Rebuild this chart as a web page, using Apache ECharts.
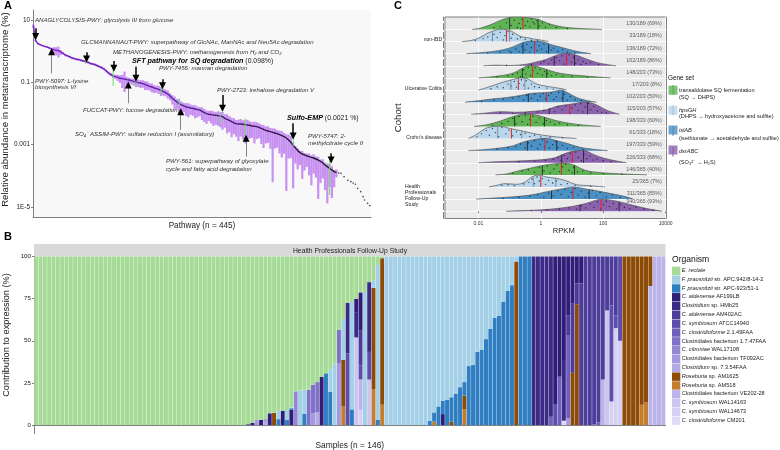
<!DOCTYPE html>
<html>
<head>
<meta charset="utf-8">
<script src="https://cdn.jsdelivr.net/npm/echarts@6/dist/echarts.min.js"></script>
<style>
html, body { margin: 0; background: #fff; }
#chart { width: 780px; height: 450px; }
</style>
</head>
<body>
<div id="chart"></div>
<script>
// ---- panel A: pathways, log10 abundance read every third rank
const meanLog = [.808,.337,.241,.209,.177,.155,.134,.102,.070,.048,.027,.016,-.026,-.069,-.123,-.155,-.187,-.219,-.240,-.262,-.272,-.294,-.315,-.337,-.358,-.390,-.411,-.433,-.465,-.497,-.529,-.572,-.636,-.700,-.754,-.796,-.818,-.839,-.871,-.882,-.893,-.914,-.925,-.946,-.968,-.989,-1.010,-1.021,-1.042,-1.064,-1.096,-1.128,-1.149,-1.181,-1.203,-1.224,-1.256,-1.288,-1.331,-1.374,-1.438,-1.513,-1.577,-1.631,-1.684,-1.727,-1.759,-1.791,-1.802,-1.823,-1.834,-1.855,-1.877,-1.887,-1.930,-1.973,-2.005,-2.026,-2.037,-2.048,-2.058,-2.069,-2.080,-2.101,-2.155,-2.187,-2.219,-2.262,-2.304,-2.326,-2.337,-2.337,-2.347,-2.358,-2.369,-2.379,-2.401,-2.411,-2.422,-2.444,-2.476,-2.508,-2.540,-2.561,-2.583,-2.604,-2.625,-2.647,-2.679,-2.711,-2.743,-2.786,-2.850,-2.925,-3.021,-3.107,-3.192,-3.256,-3.299,-3.331,-3.363,-3.385,-3.406,-3.428,-3.460,-3.492,-3.534,-3.588,-3.652,-3.706,-3.759,-3.812,-3.866,-3.898];
const spreadUp = [.05,.02,.02,.02,.02,.02,.02,.03,.03,.08,.1,.13,.06,.04,.03,.03,.04,.03,.03,.03,.03,.04,.03,.03,.04,.03,.03,.04,.04,.03,.04,.04,.04,.04,.05,.05,.06,.08,.1,.12,.24,.08,.07,.07,.08,.09,.1,.09,.11,.1,.12,.1,.11,.09,.1,.11,.1,.09,.1,.11,.09,.1,.12,.1,.13,.11,.1,.12,.13,.11,.1,.12,.1,.09,.13,.12,.1,.11,.13,.12,.1,.14,.12,.15,.13,.16,.14,.13,.15,.12,.14,.16,.13,.14,.17,.13,.12,.15,.14,.13,.12,.14,.13,.15,.12,.13,.14,.12,.13,.15,.12,.12,.18,.2,.1,.06,.08,.06,.1,.06,.08,.1,.06,.12,.08,.1,.06,.12,.08,.1,.14,.12,.06,.1];
const spreadDown = [.06,.03,.03,.03,.03,.03,.03,.04,.05,.12,.16,.22,.1,.04,.04,.03,.04,.04,.03,.04,.04,.04,.03,.04,.04,.04,.03,.04,.04,.04,.05,.04,.05,.05,.05,.06,.08,.12,.15,.3,.42,.22,.1,.12,.14,.15,.14,.16,.13,.18,.15,.14,.17,.16,.13,.15,.18,.14,.12,.15,.14,.2,.3,.22,.35,.25,.2,.28,.32,.22,.24,.3,.25,.2,.28,.3,.33,.22,.28,.35,.3,.32,.36,.42,.3,.45,.38,.5,.36,.42,.55,.4,.48,.6,.45,.42,.38,.55,.4,.35,.5,.6,.42,.38,.55,1.6,.5,.45,.6,.7,.55,1.7,.6,.5,1.38,.5,.6,.4,.8,.5,.35,.6,.9,.5,.6,1.25,.7,.5,.8,1.18,.6,.9,.5,.15];
const tailRanks = [402,405,409,414,418,421,424,427,431,434,436,440,443];
const tailLog = [-3.909,-3.920,-4.026,-4.144,-4.187,-4.230,-4.272,-4.401,-4.508,-4.668,-4.775,-4.882,-4.95];
// highlighted pathways: rank index, high and low log10
const highlightRanks = [3,69,105,135,168,192,246,279,342,390];
const highlightHigh = [.573,-.262,-.572,-.818,-1.160,-1.513,-1.941,-2.155,-2.69,-3.385];
const highlightLow = [.380,-.411,-1.117,-1.160,-1.374,-1.759,-2.315,-2.850,-3.064,-4.615];
// arrows: rank index, tail and tip log10; the first eight have black shafts
const arrowRanks = [3,70,106,135,170,249,342,392,24,125,194,280];
const arrowTail = [.733,-.037,-.315,-.497,-.903,-1.406,-2.315,-3.278,-.711,-1.673,-2.529,-3.385];
const arrowTip = [.466,-.251,-.550,-.871,-1.107,-1.834,-2.722,-3.492,-.016,-1.085,-1.941,-2.797];
const abundanceTicks = [1e-5, 1e-3, 0.1, 10];
const abundanceTickLabels = { '0.00001': '1E-5', '0.001': '0.001', '0.1': '0.1', '10': '10' };

// ---- panel B: runs of [sample, pct] or [first, last, pct], top of stack first
const eRectale = [[0,48,100],[49,99.5],[50,98.7],[51,52,97],[53,96.5],[54,93],[55,92.7],[56,91.7],[57,91.5],[58,91],[59,89.5],[60,80],[61,79.5],[62,63,79],[64,76],[65,74.5],[66,71.5],[67,69.3],[68,67],[69,63.5],[70,43.5],[71,37],[72,27.4],[73,27],[74,25],[75,21.3],[76,21],[77,15.2],[78,14.1],[79,5],[80,1]];
const fPrau942 = [[56,4.8],[58,6],[59,.5],[61,20.5],[62,14.2],[68,13.4],[69,36.5],[71,24.4],[73,63.7],[76,79],[78,4.5],[79,92],[81,90,100],[91,97.6],[92,92.5],[93,89],[94,85.5],[95,85],[96,83.5],[97,81.3],[98,77.5],[99,74.5],[100,65],[101,64.4],[102,56.6],[103,55.2],[104,49],[105,43],[106,36.5],[107,35.2],[108,27],[109,20.4],[110,17],[111,3]];
const fPrau923 = [[56,3.5],[58,3],[59,1],[62,6.8],[67,30.7],[68,19.6],[73,9.3],[79,3],[91,2.4],[92,5.5],[93,11],[94,8],[95,15],[96,14.5],[97,18.7],[98,22.5],[99,8],[100,35],[101,35.6],[102,43.4],[103,44.8],[104,51],[105,57],[106,63.5],[107,64.8],[108,73],[109,79.6],[110,83],[112,114,100]];
const cAld199 = [[49,.5],[50,1.3],[52,3],[54,7],[57,8.5],[59,9],[66,28.5],[74,8],[75,22.4],[94,6.5],[120,87.5],[121,71.3],[122,61.4],[123,35],[124,28],[125,16],[126,16]];
const closHMb = [[72,30],[74,15],[77,41.4],[115,118,100],[119,95],[122,36]];
const cAld402 = [[75,20.8],[123,12],[124,41],[125,12.3],[126,84],[127,128,100],[129,99.5],[130,98.5],[131,73],[132,32],[133,29],[134,35]];
const cSymATCC = [[72,42.6],[75,8.5],[77,16.4],[120,12.5],[133,57],[134,7.5],[135,50]];
const cClos21 = [[119,5],[121,28.7],[123,49],[129,.5],[130,1.5]];
const bact147 = [[63,21],[64,17],[65,18],[70,20]];
const cCitro = [[53,1],[60,20]];
const bactTF = [[51,3],[64,7],[70,36.5],[123,4]];
const clos73 = [[53,2.5],[65,7.5]];
const rose1625 = [[55,7.3],[71,27.6],[78,60],[80,87],[96,2],[99,8],[111,97],[124,31],[125,71.7],[136,139,100],[140,88],[141,86.6],[142,17.5]];
const rose518 = [[71,11],[78,21.4],[80,12],[92,2],[99,9.5],[140,12],[141,13.4]];
const bactVE = [[75,18],[131,27],[142,82.5],[143,145,100]];
const cSym163 = [[74,52],[77,27],[132,68]];
const cSym673 = [[75,9],[133,14],[134,57.5],[135,50]];
const cClosCM = [[122,2.6]];
const sampleCount = 146;
const contributionTicks = [0, 25, 50, 75, 100];

const organisms = [
    ['E. rectale', '{i|E. rectale}', '#A6DB97', eRectale],
    ['APC.942/8-14-2', '{i|F. prausnitzii }{n|str. APC.942/8-14-2}', '#A3CFE7', fPrau942],
    ['APC-923/51-1', '{i|F. prausnitzii }{n|str. APC-923/51-1}', '#2F7EC2', fPrau923],
    ['AF199LB', '{i|C. aldenense }{n|AF199LB}', '#2F1D78', cAld199],
    ['HMb25', '{i|Clostridium }{n|sp. HMb25}', '#3B2B85', closHMb],
    ['AM402AC', '{i|C. aldenense }{n|AM402AC}', '#4D3C99', cAld402],
    ['ATCC14940', '{i|C. symbiosum }{n|ATCC14940}', '#5E4DAD', cSymATCC],
    ['2.1.49FAA', '{i|C. clostridioforme }{n|2.1.49FAA}', '#705FBD', cClos21],
    ['1.7.47FAA', '{n|Clostridiales bacterium 1.7.47FAA}', '#7F70C8', bact147],
    ['WAL17108', '{i|C. citroniae }{n|WAL17108}', '#9386D3', cCitro],
    ['TF092AC', '{n|Clostridiales bacterium TF092AC}', '#A498DE', bactTF],
    ['7.3.54FAA', '{i|Clostridium }{n|sp. 7.3.54FAA}', '#B3A9E3', clos73],
    ['AM1625', '{i|Roseburia }{n|sp. AM1625}', '#8C4B06', rose1625],
    ['AM518', '{i|Roseburia }{n|sp. AM518}', '#C37D2C', rose518],
    ['VE202-28', '{n|Clostridiales bacterium VE202-28}', '#BDB3EB', bactVE],
    ['WAL14163', '{i|C. symbiosum }{n|WAL14163}', '#CCC5F0', cSym163],
    ['WAL14673', '{i|C. symbiosum }{n|WAL14673}', '#D6D0F5', cSym673],
    ['CM201', '{i|C. clostridioforme }{n|CM201}', '#DFDBFA', cClosCM]
];

// ---- panel C: ridges, log10 RPKM and density height, top row first
const ridgeX = [
    [-2.21,-1.94,-1.62,-1.30,-.98,-.77,-.56,-.34,-.07,.19,.51,.83,1.26,1.96],
    [-2.53,-2.26,-2.00,-1.73,-1.52,-1.30,-1.09,-.88,-.66,-.45,-.24,-.02,.25],
    [-2.39,-1.94,-1.52,-1.20,-.88,-.56,-.24,.09,.30,.62,.94,1.26,1.61],
    [-1.84,-1.41,-.98,-.45,-.13,.19,.51,.83,1.10,1.42,1.79,2.12,2.41],
    [-2.00,-1.62,-1.20,-.88,-.61,-.34,-.07,.19,.51,.83,1.26,1.79,2.24],
    [-2.00,-1.78,-1.52,-1.20,-.88,-.61,-.40,-.18,.09,.41,.73,.83],
    [-2.43,-1.94,-1.52,-1.09,-.66,-.34,-.02,.30,.67,.83,1.15,1.47,1.79],
    [-2.23,-1.73,-1.30,-.77,-.24,.19,.51,.94,1.47,1.79,2.12,2.52],
    [-2.14,-1.73,-1.30,-.88,-.45,-.24,.14,.51,.94,1.37,1.92],
    [-2.32,-2.10,-1.78,-1.52,-1.30,-.98,-.56,-.13,.30,.73,1.15],
    [-2.32,-1.84,-1.30,-.88,-.56,-.24,.14,.51,.83,1.26,1.69,2.14],
    [-2.00,-1.41,-.77,-.13,.41,.73,1.05,1.37,1.69,2.01,2.44,2.74],
    [-1.45,-1.09,-.72,-.34,-.02,.41,.73,1.05,1.42,1.79,2.33,3.40],
    [-1.66,-1.41,-1.14,-.77,-.50,-.29,-.07,.19,.51,.83,1.15,1.58,2.06],
    [-2.07,-1.52,-.88,-.34,.19,.62,1.05,1.47,1.85,2.28,2.65,2.97],
    [-1.11,-.56,-.02,.51,1.05,1.47,1.96,2.44,2.86,3.40,3.89]
];
const ridgeH = [
    [0,4,14,27,36,38,37,34,30,20,11,6,3,0],
    [0,3,10,24,32,37,36,28,16,12,8,5,0],
    [0,3,7,12,21,34,38,35,28,20,12,5,0],
    [0,2,1,5,12,20,32,38,33,22,10,4,0],
    [0,3,8,15,28,38,33,25,16,11,7,3,0],
    [0,6,14,24,32,37,33,20,13,8,3,0],
    [0,5,10,14,20,26,28,30,36,30,14,5,0],
    [0,4,8,6,9,14,24,30,37,28,12,0],
    [0,5,16,30,37,36,27,17,9,4,0],
    [0,10,30,36,37,30,22,13,7,3,0],
    [0,3,8,15,26,33,37,30,22,10,4,0],
    [0,3,5,8,14,26,35,37,25,14,5,0],
    [0,3,12,20,27,33,36,30,14,8,4,0],
    [0,5,10,8,15,30,36,30,26,18,7,4,0],
    [0,3,7,12,22,30,36,30,24,16,9,0],
    [0,2,4,8,15,24,36,30,20,8,0]
];
const ridgeQuartiles = [[-1.00,-.57,-.09],[-1.55,-1.10,-1.00],[-.57,-.20,.25],[.43,.83,1.08],[-.59,-.27,.19],[-.96,-.72,-.51],[-.40,.18,.71],[.27,.93,1.50],[-.84,-.33,.12],[-1.38,-.94,-.61],[-.43,.13,.51],[.67,1.01,1.37],[.05,.66,1.08],[-.24,0,.48],[.34,1.03,1.55],[1.26,1.93,2.51]];
const ridgeCounts = ['130/189 (69%)','33/189 (18%)','136/189 (72%)','162/189 (86%)','148/203 (73%)','17/203 (8%)','102/203 (50%)','115/203 (57%)','198/333 (60%)','61/333 (18%)','197/333 (59%)','226/333 (68%)','146/365 (40%)','25/365 (7%)','311/365 (85%)','340/365 (93%)'];
const ridgeDots = [
    [[-1.3,8],[-1.1,20],[-.95,12],[-.85,28],[-.75,6],[-.7,18],[-.6,30],[-.5,12],[-.42,24],[-.35,8],[-.3,32],[-.2,17],[-.12,26],[-.05,10],[.05,20],[.15,7],[.28,14],[.5,6],[.85,3],[-1.5,5],[-.65,3],[-.25,22]],
    [[-2.1,3],[-1.85,9],[-1.7,14],[-1.55,6],[-1.5,22],[-1.4,12],[-1.3,28],[-1.2,5],[-1.15,18],[-1.05,30],[-.95,10],[-.9,22],[-.75,8],[-.65,12],[-.5,7],[-.3,4],[-.1,3]],
    [[-1.7,2],[-1.3,5],[-1,8],[-.8,14],[-.7,6],[-.6,22],[-.5,12],[-.45,28],[-.35,5],[-.3,18],[-.2,32],[-.12,9],[-.05,24],[.02,14],[.1,29],[.18,6],[.25,20],[.33,11],[.42,17],[.55,7],[.7,12],[.85,5],[1.1,3],[-.95,3]],
    [[-.3,4],[0,8],[.1,13],[.25,6],[.35,18],[.45,10],[.5,25],[.6,15],[.68,30],[.75,5],[.82,20],[.9,33],[.98,11],[1.05,26],[1.12,8],[1.2,18],[1.28,4],[1.35,13],[1.45,7],[1.6,9],[1.85,4],[-1.1,1]],
    [[-1.4,3],[-1.05,6],[-.9,10],[-.75,15],[-.65,5],[-.55,24],[-.48,12],[-.4,32],[-.33,8],[-.25,22],[-.18,30],[-.1,14],[-.03,26],[.05,9],[.12,19],[.22,13],[.35,7],[.5,10],[.7,5],[1,4],[1.5,2]],
    [[-1.6,4],[-1.4,10],[-1.2,7],[-1.05,18],[-.95,12],[-.85,26],[-.78,9],[-.7,20],[-.62,31],[-.55,15],[-.47,28],[-.4,6],[-.3,18],[-.2,10],[-.05,8],[.2,6],[.4,3]],
    [[-1.9,2],[-1.5,6],[-1.2,9],[-.9,12],[-.7,16],[-.55,7],[-.45,20],[-.3,12],[-.2,24],[-.1,6],[-.02,18],[.08,25],[.15,10],[.25,20],[.33,27],[.42,8],[.5,16],[.58,30],[.68,12],[.76,24],[.85,6],[.95,17],[1.1,8],[1.3,5]],
    [[-1.3,4],[-.9,3],[-.5,4],[-.1,7],[.1,11],[.3,16],[.45,8],[.55,22],[.68,13],[.8,25],[.92,6],[1,19],[1.1,28],[1.2,12],[1.28,32],[1.35,7],[1.42,22],[1.52,33],[1.6,14],[1.7,24],[1.82,10],[1.95,6],[2.1,4]],
    [[-1.55,4],[-1.25,9],[-1.05,15],[-.9,24],[-.8,8],[-.7,30],[-.6,14],[-.5,33],[-.42,6],[-.35,21],[-.25,30],[-.15,12],[-.05,25],[.08,8],[.18,18],[.3,13],[.45,6],[.6,10],[.85,5],[1.2,3]],
    [[-2.05,5],[-1.9,14],[-1.75,24],[-1.65,10],[-1.55,30],[-1.45,18],[-1.35,6],[-1.25,33],[-1.12,14],[-1.02,25],[-.9,8],[-.78,20],[-.65,12],[-.5,16],[-.35,6],[-.2,10],[0,5],[.3,4],[.7,2]],
    [[-1.4,5],[-1.05,9],[-.8,12],[-.65,20],[-.5,8],[-.4,24],[-.3,14],[-.2,30],[-.1,6],[-.02,19],[.05,33],[.12,12],[.2,26],[.28,8],[.38,18],[.48,28],[.55,10],[.7,16],[.85,7],[1.05,10],[1.35,4]],
    [[-.7,3],[-.2,5],[.15,7],[.4,10],[.55,16],[.65,6],[.75,22],[.85,12],[.95,28],[1.02,8],[1.12,32],[1.2,16],[1.3,6],[1.38,25],[1.48,12],[1.58,20],[1.68,8],[1.8,11],[2,6],[2.25,3]],
    [[-.9,5],[-.6,11],[-.4,15],[-.2,8],[-.05,22],[.1,12],[.2,27],[.3,6],[.42,18],[.52,30],[.6,10],[.7,24],[.8,32],[.9,14],[1,7],[1.05,23],[1.18,9],[1.35,12],[1.6,6],[2,4],[2.6,2]],
    [[-1.25,5],[-1.05,7],[-.85,4],[-.55,9],[-.38,14],[-.28,24],[-.2,10],[-.12,30],[-.05,18],[.05,25],[.15,8],[.25,20],[.38,12],[.5,18],[.65,7],[.85,10],[1.1,5],[1.6,2]],
    [[-1.2,2],[-.7,5],[-.35,8],[-.1,12],[.1,6],[.25,18],[.4,10],[.55,25],[.65,14],[.78,30],[.88,7],[.98,20],[1.1,32],[1.2,12],[1.3,24],[1.42,6],[1.52,18],[1.65,26],[1.78,10],[1.9,20],[2.1,6],[2.3,12],[2.55,5]],
    [[-.3,2],[.2,4],[.6,6],[.9,10],[1.15,6],[1.3,16],[1.45,10],[1.58,22],[1.7,12],[1.82,28],[1.92,6],[2,20],[2.1,30],[2.2,14],[2.32,24],[2.42,8],[2.55,20],[2.68,12],[2.85,8],[3.05,12],[3.3,6],[3.6,3]]
];
const rpkmTicks = [0.01, 1, 100, 10000];
const cohortLabels = { 14.18: 'non-IBD', 10.08: 'Ulcerative Colitis', 6.07: "Crohn's disease", 1.29: '{hp|Health\nProfessionals\nFollow-Up\nStudy}' };
const geneSets = [
    ['transaldolase', '#5FB355'],
    ['hpsGH', '#B9D6EC'],
    ['islAB', '#4A90C4'],
    ['dsrABC', '#8A62AE']
];

const fontName = '"Liberation Sans", Arial, sans-serif';
const greyAxis = '#7f7f7f';
const rowScale = 1 / 36.4;
const rowCount = ridgeX.length;

function expandRuns(runs) {
    const out = new Array(sampleCount).fill(0);
    runs.forEach(r => {
        if (r.length === 2) out[r[0]] = r[1];
        else for (let i = r[0]; i <= r[1]; i++) out[i] = r[2];
    });
    return out;
}
function heightAt(row, logX) {
    const xs = ridgeX[row], hs = ridgeH[row];
    for (let i = 1; i < xs.length; i++) {
        if (logX <= xs[i]) return hs[i - 1] + (hs[i] - hs[i - 1]) * (logX - xs[i - 1]) / (xs[i] - xs[i - 1]);
    }
    return 0;
}

const rankCategories = Array.from({ length: 445 }, (_, i) => String(i + 1));
const sampleCategories = Array.from({ length: sampleCount }, (_, i) => String(i + 1));
const errorBars = meanLog.map((m, i) => [i * 3, Math.pow(10, m + spreadUp[i]), Math.pow(10, m - spreadDown[i])]);
const highlightBars = highlightRanks.map((r, i) => [r, Math.pow(10, highlightHigh[i]), Math.pow(10, highlightLow[i])]);

function barRender(color, width) {
    return (params, api) => {
        const a = api.coord([api.value(0), api.value(1)]);
        const b = api.coord([api.value(0), api.value(2)]);
        return { type: 'line', shape: { x1: a[0], y1: a[1], x2: b[0], y2: b[1] }, style: { stroke: color, lineWidth: width } };
    };
}

const arrowLines = [];
arrowRanks.forEach((r, i) => {
    const strong = i < 8;
    arrowLines.push([
        { coord: [r, Math.pow(10, arrowTail[i])], symbol: 'none', lineStyle: { type: 'solid', color: strong ? '#000' : '#777', width: strong ? 1.5 : 0.9 } },
        { coord: [r, Math.pow(10, arrowTip[i])], symbol: strong ? 'triangle' : 'none' }
    ]);
    if (!strong) {
        arrowLines.push([
            { coord: [r, Math.pow(10, arrowTip[i] - 0.06)], symbol: 'none', lineStyle: { type: 'solid', color: '#000', width: 0.5 } },
            { coord: [r, Math.pow(10, arrowTip[i])], symbol: 'triangle' }
        ]);
    }
});

const series = [
    { type: 'custom', name: 'spread', xAxisIndex: 0, yAxisIndex: 0, data: errorBars, renderItem: barRender('rgba(158,58,235,0.55)', 2.2), encode: { x: 0, y: [1, 2] }, z: 2, silent: true },
    { type: 'custom', name: 'highlighted', xAxisIndex: 0, yAxisIndex: 0, data: highlightBars, renderItem: barRender('#6fdc6f', 1), encode: { x: 0, y: [1, 2] }, z: 4, silent: true },
    {
        type: 'line', name: 'mean', xAxisIndex: 0, yAxisIndex: 0, showSymbol: false, silent: true, z: 3,
        data: meanLog.map((m, i) => [i * 3, Math.pow(10, m)]),
        lineStyle: {
            width: 1.4,
            color: new echarts.graphic.LinearGradient(0, 0, 1, 0, [
                { offset: 0, color: '#7a22c8' }, { offset: 0.45, color: '#5a1f9a' }, { offset: 0.8, color: '#33184f' }, { offset: 1, color: '#1c1c1c' }
            ])
        }
    },
    { type: 'scatter', name: 'tail', xAxisIndex: 0, yAxisIndex: 0, symbolSize: 1.6, silent: true, itemStyle: { color: '#111' }, data: tailRanks.map((r, i) => [r, Math.pow(10, tailLog[i])]) },
    {
        type: 'line', name: 'arrows', xAxisIndex: 0, yAxisIndex: 0, data: [], silent: true,
        markLine: { silent: true, animation: false, symbolSize: 7, label: { show: false }, data: arrowLines }
    }
];

// B: ggplot stacks upward from the last legend entry
organisms.slice().reverse().forEach(o => {
    series.push({
        type: 'bar', name: o[0], xAxisIndex: 1, yAxisIndex: 1, stack: 'share', barCategoryGap: '8%',
        itemStyle: { color: o[2] }, data: expandRuns(o[3]), silent: true
    });
});

// C: ridges
ridgeX.forEach((xs, row) => {
    const base = rowCount - 1 - row;
    const color = geneSets[row % 4][1];
    series.push({
        type: 'line', name: 'ridge' + row, xAxisIndex: 2, yAxisIndex: 2, showSymbol: false, silent: true,
        smooth: 0.35, z: 2,
        data: xs.map((x, i) => [Math.pow(10, x), base + ridgeH[row][i] * rowScale]),
        lineStyle: { color: '#555', width: 0.7 },
        itemStyle: { color: color },
        areaStyle: { origin: base, color: color, opacity: 1 }
    });
});
const markData = [];
ridgeQuartiles.forEach((q, row) => {
    const base = rowCount - 1 - row;
    q.forEach((x, k) => {
        markData.push([Math.pow(10, x), base, base + heightAt(row, x) * rowScale, k === 1 ? 1 : (row % 4 === 1 ? 2 : 0)]);
    });
});
const markColors = ['#1a1a1a', '#e3242b', '#6f7f8c'];
series.push({
    type: 'custom', name: 'quartiles', xAxisIndex: 2, yAxisIndex: 2, z: 4, silent: true, data: markData,
    encode: { x: 0, y: [1, 2] },
    renderItem: (params, api) => {
        const a = api.coord([api.value(0), api.value(1)]);
        const b = api.coord([api.value(0), api.value(2)]);
        const kind = api.value(3);
        return { type: 'line', shape: { x1: a[0], y1: a[1], x2: b[0], y2: b[1] }, style: { stroke: markColors[kind], lineWidth: kind === 1 ? 1 : 0.8 } };
    }
});
series.push({
    type: 'scatter', name: 'points', xAxisIndex: 2, yAxisIndex: 2, z: 3, silent: true, symbolSize: 1.3,
    itemStyle: { color: '#111', opacity: 0.85 },
    data: ridgeDots.flatMap((dots, row) => dots.map(d => [Math.pow(10, d[0]), rowCount - 1 - row + d[1] * rowScale]))
});
series.push({
    type: 'scatter', name: 'counts', xAxisIndex: 2, yAxisIndex: 2, z: 5, silent: true, symbolSize: 0,
    data: ridgeCounts.map((c, row) => [7500, rowCount - 1 - row + (row === 15 ? 0.8 : 0.47)]),
    label: { show: true, position: 'left', distance: 0, fontSize: 5.4, fontFamily: fontName, color: '#333', formatter: p => ridgeCounts[p.dataIndex] }
});
geneSets.forEach(g => {
    series.push({ type: 'scatter', name: g[0], xAxisIndex: 2, yAxisIndex: 2, data: [], itemStyle: { color: g[1] } });
});

// annotation text of panel A
const baseNote = { fontStyle: 'italic', fontSize: 6.1, fontFamily: fontName, fill: '#333', verticalAlign: 'middle' };
const notes = [
    [35, 20, 'ANAGLYCOLYSIS-PWY: glycolysis III from glucose'],
    [81, 42.5, 'GLCMANNANAUT-PWY: superpathway of GlcNAc, ManNAc and Neu5Ac degradation'],
    [113, 52.5, 'METHANOGENESIS-PWY: methanogenesis from H\u2082 and CO\u2082'],
    [159, 68.5, 'PWY-7456: mannan degradation'],
    [35, 81, 'PWY-5097: L-lysine'],
    [35, 87.5, 'biosynthesis VI'],
    [217, 90.5, 'PWY-2723: trehalose degradation V'],
    [83, 110, 'FUCCAT-PWY: fucose degradation'],
    [75, 134, 'SO\u2084\u207B ASSIM-PWY: sulfate reduction I (assimilatory)'],
    [308, 136, 'PWY-5747: 2-'],
    [308, 143, 'methylcitrate cycle II'],
    [166, 161.5, 'PWY-561: superpathway of glyoxylate'],
    [166, 169, 'cycle and fatty acid degradation']
];
const graphic = notes.map(n => ({ type: 'text', x: n[0], y: n[1], style: Object.assign({ text: n[2] }, baseNote), silent: true }));
[[132, 61, 'SFT pathway for SQ degradation', ' (0.098%)'], [287, 118, 'Sulfo-EMP', ' (0.0021 %)']].forEach(n => {
    graphic.push({
        type: 'text', x: n[0], y: n[1], silent: true,
        style: {
            text: '{b|' + n[2] + '}{n|' + n[3] + '}', verticalAlign: 'middle',
            rich: {
                b: { fontFamily: fontName, fontWeight: 'bold', fontStyle: 'italic', fontSize: 7.2, fill: '#000' },
                n: { fontFamily: fontName, fontSize: 6.9, fill: '#222' }
            }
        }
    });
});
[['A', 4, 6], ['B', 4, 237], ['C', 394, 6]].forEach(p => {
    graphic.push({ type: 'text', x: p[1], y: p[2], silent: true, style: { text: p[0], fontFamily: fontName, fontWeight: 'bold', fontSize: 11, fill: '#000', verticalAlign: 'middle' } });
});
graphic.push({ type: 'rect', shape: { x: 34, y: 244, width: 631.5, height: 12.5 }, style: { fill: '#D9D9D9' }, silent: true, z: -1 });
graphic.push({ type: 'text', x: 350, y: 251, silent: true, style: { text: 'Health Professionals Follow-Up Study', fontFamily: fontName, fontSize: 6.8, fill: '#222', align: 'center', verticalAlign: 'middle' } });
graphic.push({ type: 'text', x: 672, y: 260, silent: true, style: { text: 'Organism', fontFamily: fontName, fontSize: 8.6, fill: '#111', verticalAlign: 'middle' } });
graphic.push({ type: 'text', x: 668, y: 78, silent: true, style: { text: 'Gene set', fontFamily: fontName, fontSize: 6.4, fill: '#111', verticalAlign: 'middle' } });

// legend entries keep their swatches in the legend; ECharts fixes the swatch-to-text gap at 5px, so text sits here
const legendRich = {
    i: { fontFamily: fontName, fontStyle: 'italic', fontSize: 5.6, fill: '#222' },
    n: { fontFamily: fontName, fontSize: 5.6, fill: '#222' }
};
organisms.forEach((o, k) => {
    graphic.push({ type: 'text', x: 681.7, y: 270.4 + k * 8.82, silent: true, style: { text: o[1], verticalAlign: 'middle', rich: legendRich } });
});
const geneNotes = [
    [90, '{n|transaldolase SQ fermentation}'], [97, '{n|(SQ \u2192 DHPS)}'],
    [110, '{i|hpsGH}'], [116.8, '{n|(DHPS \u2192 hydroxyacetone and sulfite)}'],
    [130.7, '{i|islAB}'], [138, '{n|(isethionate \u2192 acetaldehyde and sulfite)}'],
    [151, '{i|dsrABC}'], [162.7, '{n|(SO\u2083\u00B2\u207B \u2192 H\u2082S)}']
];
geneNotes.forEach(g => {
    graphic.push({ type: 'text', x: 679, y: g[0], silent: true, style: { text: g[1], verticalAlign: 'middle', rich: legendRich } });
});
[85, 105.6, 126.3, 147].forEach(y => {
    graphic.push({ type: 'line', shape: { x1: 673, y1: y, x2: 673, y2: y + 9.5 }, style: { stroke: '#222', lineWidth: 0.7 }, silent: true });
});

const option = {
    animation: false,
    backgroundColor: '#fff',
    textStyle: { fontFamily: fontName },
    grid: [
        { left: 33, width: 338, top: 10, height: 207, show: true, backgroundColor: '#F8F8F8', borderWidth: 0, outerBoundsMode: 'none' },
        { left: 34, width: 631.5, top: 256.5, height: 177, show: false, outerBoundsMode: 'none' },
        { left: 445, width: 221.5, top: 17, height: 201.5, show: true, backgroundColor: '#EBEBEB', borderColor: greyAxis, borderWidth: 1, outerBoundsMode: 'none' }
    ],
    xAxis: [
        {
            gridIndex: 0, type: 'category', data: rankCategories, name: 'Pathway (n = 445)', nameLocation: 'middle', nameGap: 5,
            nameMoveOverlap: false, nameTextStyle: { fontSize: 8.2, color: '#222' },
            axisLine: { lineStyle: { color: greyAxis } },
            axisTick: { interval: 0, length: 1.5, lineStyle: { color: '#888', width: 0.5 } },
            axisLabel: { show: false }, splitLine: { show: false }
        },
        {
            gridIndex: 1, type: 'category', data: sampleCategories, name: 'Samples (n = 146)', nameLocation: 'middle', nameGap: 8,
            nameMoveOverlap: false, nameTextStyle: { fontSize: 8.4, color: '#222' },
            axisLine: { lineStyle: { color: greyAxis } },
            axisTick: { interval: 0, length: 1.5, lineStyle: { color: '#555', width: 0.6 } },
            axisLabel: { show: false }
        },
        {
            gridIndex: 2, type: 'log', min: 8.5e-4, max: 1.07e4, name: 'RPKM', nameLocation: 'middle', nameGap: 8,
            nameMoveOverlap: false, nameTextStyle: { fontSize: 7.6, color: '#222', padding: [0, 0, 0, 16] },
            axisLine: { show: false },
            axisTick: { customValues: rpkmTicks, length: 2, lineStyle: { color: greyAxis } },
            axisLabel: { customValues: rpkmTicks, fontSize: 5, color: '#333', margin: 3, formatter: v => String(+Number(v).toPrecision(3)) },
            splitLine: { show: true, lineStyle: { color: '#fff', width: 0.8 } }
        }
    ],
    yAxis: [
        {
            gridIndex: 0, type: 'log', min: 4.78e-6, max: 20.9, name: 'Relative abundance in metatranscriptome (%)', nameLocation: 'middle', nameGap: 23,
            nameMoveOverlap: false, nameTextStyle: { fontSize: 9.6, color: '#222', padding: [0, 0, 0, 8] },
            axisLine: { show: true, lineStyle: { color: greyAxis } },
            axisTick: { show: true, customValues: abundanceTicks, length: 2, lineStyle: { color: greyAxis } },
            axisLabel: { customValues: abundanceTicks, fontSize: 6.4, color: '#222', margin: 3, formatter: v => abundanceTickLabels[String(+Number(v).toPrecision(3))] || '' },
            splitLine: { show: false }
        },
        {
            gridIndex: 1, type: 'value', min: -5, max: 100, name: 'Contribution to expression (%)', nameLocation: 'middle', nameGap: 23,
            nameMoveOverlap: false, nameTextStyle: { fontSize: 9.2, color: '#222', padding: [0, 0, 0, 20] },
            axisLine: { show: true, lineStyle: { color: greyAxis } },
            axisTick: { show: true, customValues: contributionTicks, length: 2, lineStyle: { color: greyAxis } },
            axisLabel: { customValues: contributionTicks, fontSize: 6.2, color: '#222', margin: 3 },
            splitLine: { show: false }
        },
        {
            gridIndex: 2, type: 'value', min: -0.6, max: 16.03, offset: 2, name: 'Cohort', nameLocation: 'middle', nameGap: 40,
            nameMoveOverlap: false, nameTextStyle: { fontSize: 9.6, color: '#222' },
            axisLine: { show: true, lineStyle: { color: greyAxis, type: [6, 3] } },
            axisTick: { show: false, customValues: ridgeX.map((_, i) => i) },
            axisLabel: {
                customValues: Object.keys(cohortLabels).map(Number), fontSize: 5, color: '#222', margin: 1,
                formatter: v => cohortLabels[v] || '',
                rich: { hp: { width: 37, align: 'left', fontSize: 5.2, lineHeight: 6.2, color: '#222' } }
            },
            splitLine: { show: true, lineStyle: { color: '#fff', width: 0.8 } }
        }
    ],
    legend: [
        {
            data: organisms.map(o => o[0]), orient: 'vertical', left: 672, top: 266.6, padding: 0, itemWidth: 8.3, itemHeight: 8.4, itemGap: 0.42,
            selectedMode: false, icon: 'rect', formatter: () => '', textStyle: { fontSize: 4 }
        },
        {
            data: geneSets.map(g => g[0]), orient: 'vertical', left: 668.5, top: 85, padding: 0, itemWidth: 9, itemHeight: 16, itemGap: 4.7,
            selectedMode: false, icon: 'path://M0 0H10V10H0Z M0 16L0.01 16', formatter: () => '', textStyle: { fontSize: 4 }
        }
    ],
    graphic: graphic,
    series: series
};

const chart = echarts.init(document.getElementById('chart'), null, { renderer: 'canvas' });
chart.setOption(option);
window.onresize = () => chart.resize();
</script>
</body>
</html>
